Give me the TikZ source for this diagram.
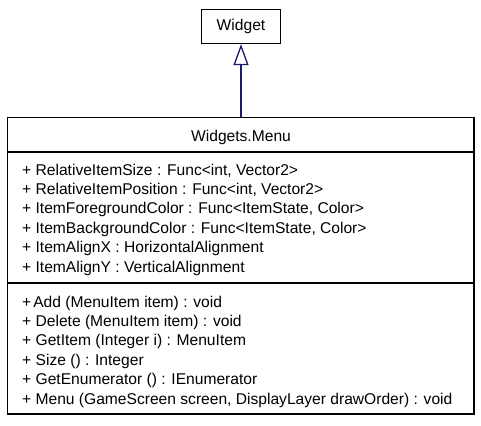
\documentclass[tikz,border=0pt]{standalone}
\usepackage{fontspec}
\setmainfont{Liberation Sans}
\usetikzlibrary{arrows.meta}
\definecolor{edgeblue}{RGB}{25,25,112}

\begin{document}
\begin{tikzpicture}[x = 1pt, y = -1pt, font = \fontsize{15.6}{18}\selectfont,
  umlbox/.style = {draw, line width = 1.3pt, inner sep = 0pt},
  member/.style = {anchor = base west, inner sep = 0pt}]
\useasboundingbox (0,0) rectangle (481,425);

\draw (241,26.5) node[umlbox, minimum width = 79pt, minimum height = 34pt](W){Widget};
\draw (240.75,265.75) node[umlbox, minimum width = 466.5pt, minimum height = 296.5pt](M){};
\draw (241,141.7) node[anchor = base](T){Widgets.Menu};

\draw[line width = 1.3pt] (M.west |- 0,152) coordinate(S1) -- (M.east |- 0,152) coordinate(S2)
(M.west |- 0,283) coordinate(S3) -- (M.east |- 0,283) coordinate(S4);

\draw[edgeblue, line width = 1.3pt, -{Triangle[open, length = 21pt, width = 15pt, fill = white]}]
(W.south |- M.north) -- (W.south);

\draw (22,175) node[member](A1){+ RelativeItemSize : Func<int, Vector2>}
(22,194.4) node[member](A2){+ RelativeItemPosition : Func<int, Vector2>}
(22,213.8) node[member](A3){+ ItemForegroundColor : Func<ItemState, Color>}
(22,233.2) node[member](A4){+ ItemBackgroundColor : Func<ItemState, Color>}
(22,252.6) node[member](A5){+ ItemAlignX : HorizontalAlignment}
(22,272) node[member](A6){+ ItemAlignY : VerticalAlignment};

\draw (22,307) node[member](O1){+\kern2pt Add (MenuItem item) : void}
(22,326.4) node[member](O2){+ Delete (MenuItem item) : void}
(22,345.8) node[member](O3){+ GetItem (Integer i) : MenuItem}
(22,365.2) node[member](O4){+ Size () : Integer}
(22,384.6) node[member](O5){+ GetEnumerator () : IEnumerator}
(22,404) node[member](O6){+ Menu (GameScreen screen, DisplayLayer drawOrder) : void};
\end{tikzpicture}
\end{document}
